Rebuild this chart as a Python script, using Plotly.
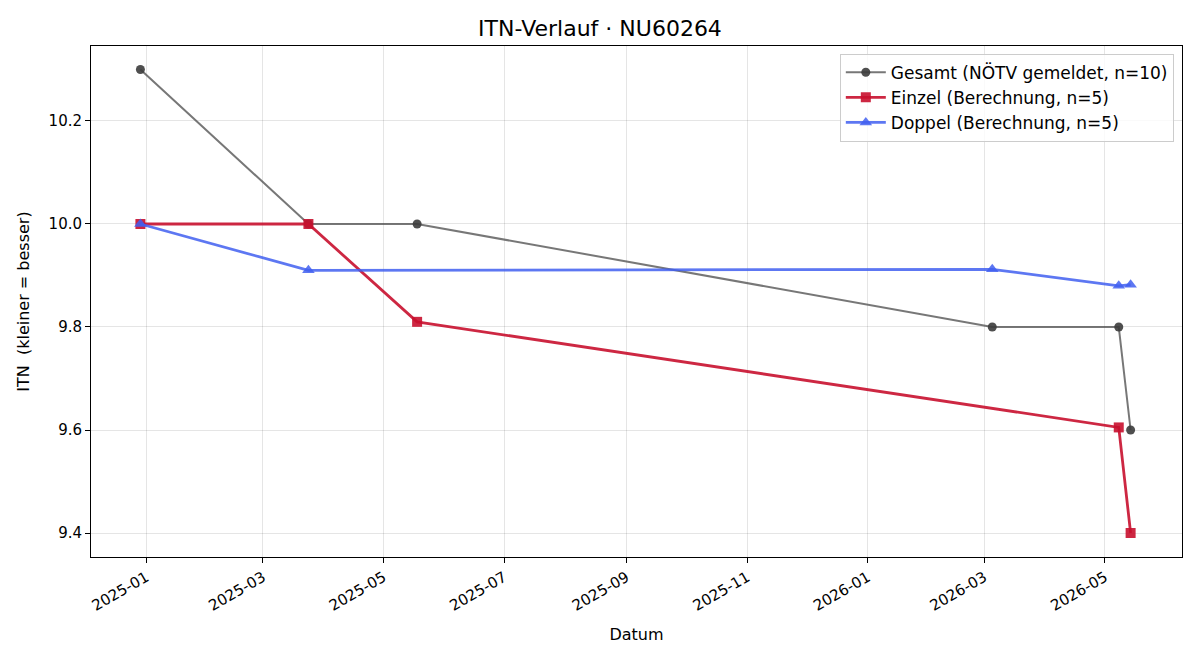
import plotly.graph_objects as go

title = "ITN-Verlauf · NU60264"

gesamt_dates = ["2024-12-29", "2025-03-24", "2025-05-18", "2026-03-05", "2026-05-08", "2026-05-14"]
gesamt_vals = [10.3, 10.0, 10.0, 9.8, 9.8, 9.6]

einzel_dates = ["2024-12-29", "2025-03-24", "2025-05-18", "2026-05-08", "2026-05-14"]
einzel_vals = [10.0, 10.0, 9.81, 9.605, 9.4]

doppel_dates = ["2024-12-29", "2025-03-24", "2026-03-05", "2026-05-08", "2026-05-14"]
doppel_vals = [10.0, 9.91, 9.912, 9.88, 9.882]

tick_dates = ["2025-01-01", "2025-03-01", "2025-05-01", "2025-07-01", "2025-09-01",
              "2025-11-01", "2026-01-01", "2026-03-01", "2026-05-01"]
tick_labels = ["2025-01", "2025-03", "2025-05", "2025-07", "2025-09",
               "2025-11", "2026-01", "2026-03", "2026-05"]
y_ticks = [9.4, 9.6, 9.8, 10.0, 10.2]

fig = go.Figure()
fig.add_trace(go.Scatter(
    x=gesamt_dates, y=gesamt_vals, mode="lines+markers",
    name="Gesamt (NÖTV gemeldet, n=10)",
    line=dict(color="rgba(85,85,85,0.8)", width=2),
    marker=dict(symbol="circle", size=9, color="rgba(60,60,60,0.9)"),
))
fig.add_trace(go.Scatter(
    x=einzel_dates, y=einzel_vals, mode="lines+markers",
    name="Einzel (Berechnung, n=5)",
    line=dict(color="rgba(200,16,46,0.9)", width=2.8),
    marker=dict(symbol="square", size=10, color="rgba(200,16,46,0.9)"),
))
fig.add_trace(go.Scatter(
    x=doppel_dates, y=doppel_vals, mode="lines+markers",
    name="Doppel (Berechnung, n=5)",
    line=dict(color="rgba(65,95,240,0.85)", width=2.8),
    marker=dict(symbol="triangle-up", size=11, color="rgba(65,95,240,0.85)"),
))

font_family = "DejaVu Sans"
fig.update_layout(
    width=1200, height=660,
    margin=dict(l=91, r=18, t=46, b=103),
    paper_bgcolor="white", plot_bgcolor="white",
    font=dict(family=font_family, size=15, color="black"),
    title=dict(text=title, x=0.5, xanchor="center", y=1 - 28 / 660, yanchor="middle",
               font=dict(size=22, family=font_family)),
    legend=dict(x=0.9925, y=0.985, xanchor="right", yanchor="top",
                bgcolor="rgba(255,255,255,0.8)", bordercolor="#cccccc", borderwidth=1,
                font=dict(size=17), tracegroupgap=0, itemwidth=40),
    showlegend=True,
)
fig.update_xaxes(
    type="date", range=["2024-12-04", "2026-06-09"],
    tickvals=tick_dates, ticktext=tick_labels, tickangle=-30,
    showgrid=True, gridcolor="rgba(0,0,0,0.1)", gridwidth=1,
    showline=True, linecolor="black", linewidth=1, mirror=True,
    ticks="outside", ticklen=5, tickcolor="black",
    tickfont=dict(size=15), zeroline=False,
    title=dict(text="Datum", font=dict(size=16), standoff=14),
)
fig.update_yaxes(
    range=[9.3534, 10.3456], tickvals=y_ticks, tickformat=".1f",
    showgrid=True, gridcolor="rgba(0,0,0,0.1)", gridwidth=1,
    showline=True, linecolor="black", linewidth=1, mirror=True,
    ticks="outside", ticklen=5, tickcolor="black",
    tickfont=dict(size=15), zeroline=False,
    title=dict(text="ITN  (kleiner = besser)", font=dict(size=16), standoff=14),
)

fig.write_html("out.html")
